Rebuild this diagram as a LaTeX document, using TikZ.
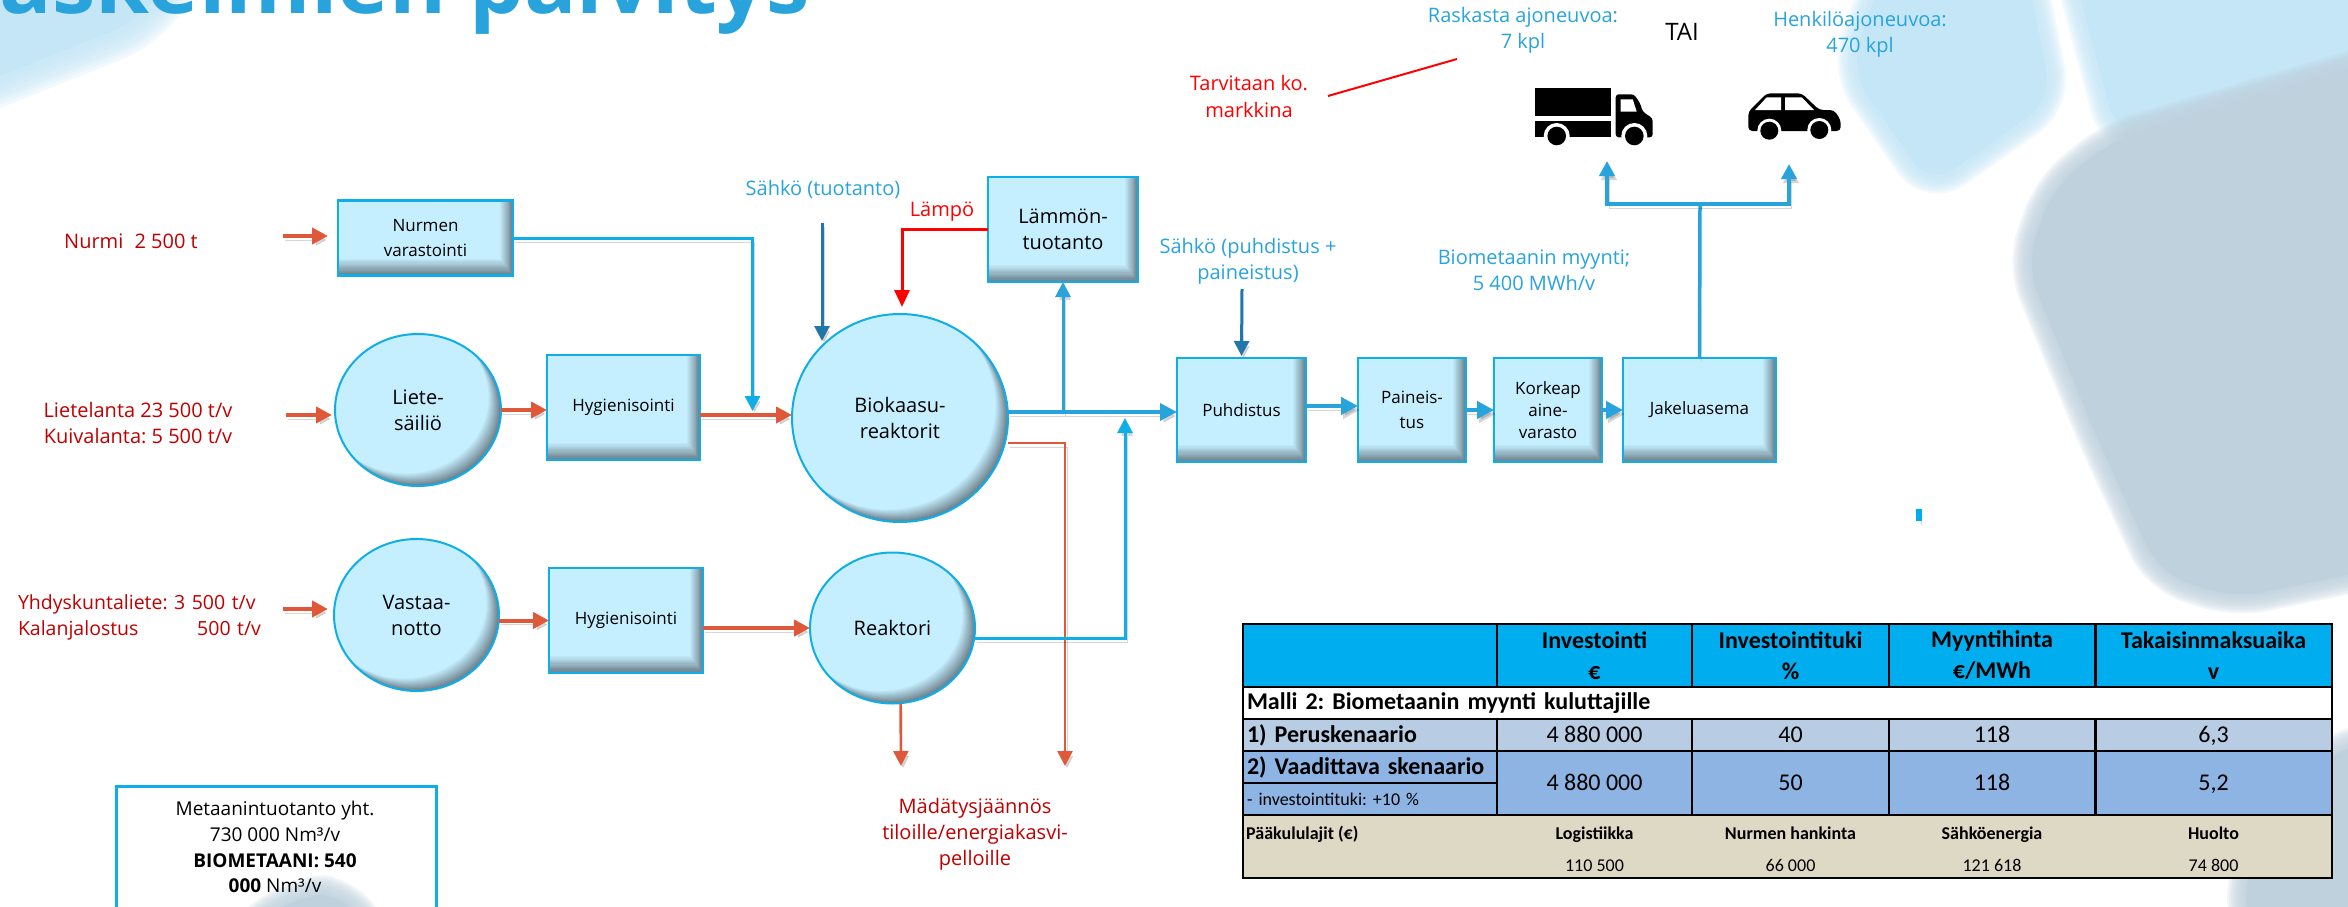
\documentclass[tikz,border=0pt]{standalone}
\usepackage{fontspec}
\setmainfont{Open Sans}
\newfontfamily\tablefont{Carlito}
\usetikzlibrary{arrows.meta,calc,shapes.geometric}
\definecolor{boxfill}{HTML}{C5EFFF}
\definecolor{boxedge}{HTML}{0FAEE6}
\definecolor{boxgray}{HTML}{6B7F8A}
\definecolor{feedred}{HTML}{E0583A}
\definecolor{lineblue}{HTML}{29A3DC}
\definecolor{darkblue}{HTML}{2178A8}
\definecolor{labelred}{HTML}{C00000}
\definecolor{pale}{HTML}{C5E6F6}
\definecolor{slate}{HTML}{BFD1DD}
\definecolor{headblue}{HTML}{00AEEF}
\definecolor{rowone}{HTML}{B8CCE4}
\definecolor{rowtwo}{HTML}{8DB4E2}
\definecolor{rowcost}{HTML}{DDD9C4}
\newcommand{\softblob}[3]{
  \foreach \w in {30,27,...,3}{
    \path[draw=#1,fill=#1,opacity=.2,line width=\w*#3,line join=round,rounded corners=30] #2 -- cycle;
  }
  \fill[#1,rounded corners=30] #2 -- cycle;
}
\begin{document}
\frenchspacing
\begin{tikzpicture}[x=1pt,y=-1pt]
\tikzstyle{block} = [rectangle,draw=boxedge,fill=boxgray,line width=2.5,inner sep=0,outer sep=0,align=center,font=\fontsize{17}{25}\selectfont,
  path picture={
    \foreach \s [evaluate=\s as \m using 100*\s/14] in {1,...,14}{
      \fill[boxfill!\m!boxgray] (path picture bounding box.north west) rectangle ([xshift=-\s*0.9pt,yshift=\s*1.2pt]path picture bounding box.south east);
    }
  }]
\tikzstyle{tank} = [ellipse,draw=boxedge,line width=2,fill=boxgray,inner sep=0,outer sep=0,align=center,font=\fontsize{20}{26}\selectfont,
  path picture={
    \foreach \s [evaluate=\s as \m using 100*\s/14] in {1,...,14}{
      \fill[boxfill!\m!boxgray] let \p1=(path picture bounding box.north east),\p2=(path picture bounding box.center) in
        ([xshift=-\s*0.9pt,yshift=\s*0.9pt]path picture bounding box.center) ellipse ({\x1-\x2} and {\y1-\y2});
    }
  }]
\tikzstyle{redlabel} = [text=labelred,align=center,font=\fontsize{20}{26}\selectfont,inner sep=0]
\tikzstyle{bluelabel} = [text=lineblue,align=center,font=\fontsize{20}{26}\selectfont,inner sep=0]
\tikzstyle{shadowline} = [preaction={draw=black,opacity=.16,transform canvas={xshift=2pt,yshift=-4pt}}]
\tikzstyle{feed} = [-{Triangle[length=16pt,width=16pt]},draw=feedred,line width=4,shadowline]
\tikzstyle{waste} = [-{Triangle[length=15pt,width=15pt]},draw=feedred,line width=2.5,shadowline]
\tikzstyle{gasline} = [-{Triangle[length=15pt,width=15pt]},draw=boxedge,line width=3,shadowline]
\tikzstyle{thickgas} = [-{Triangle[length=17pt,width=17pt]},draw=lineblue,line width=4.5,shadowline]
\tikzstyle{power} = [-{Triangle[length=15pt,width=15pt]},draw=darkblue,line width=3,shadowline]
\tikzstyle{cell} = [draw=black,line width=2,inner sep=0,outer sep=0,align=center,font=\tablefont\fontsize{24}{31}\selectfont]
\tikzstyle{valuecell} = [cell,text height=15,text depth=0]
\tikzstyle{leftcell} = [cell,align=left,inner sep=4]
\tikzstyle{costtext} = [inner sep=0,anchor=base,font=\tablefont\fontsize{18}{22}\selectfont]
\useasboundingbox (0,0) rectangle (2348,907);
\clip (0,0) rectangle (2348,907);
\softblob{pale}{(-60,-60) -- (195,-60) -- (140,20) -- (-60,100)}{2}
\softblob{pale}{(1895,-60) -- (2020,-60) -- (2052,100) -- (1930,186) -- (1850,70)}{1.3}
\softblob{pale}{(2065,-60) -- (2117,135) -- (2420,135) -- (2420,-60)}{1.3}
\softblob{slate}{(2113,140) -- (2420,50) -- (2420,560) -- (2235,598) -- (2160,574) -- (2099,442) -- (2026,265) -- (2052,189)}{1.3}
\softblob{slate}{(2420,720) -- (2320,760) -- (2245,870) -- (2250,960) -- (2420,960)}{1.3}
\softblob{slate}{(235,940) -- (295,897) -- (345,893) -- (372,940)}{1.3}
\node[anchor=base east,text=lineblue,inner sep=0,font=\fontsize{87}{87}\selectfont\bfseries] at (810,14) (title) {Laskelmien päivitys};
\node[block,minimum width=175,minimum height=75] at (425.5,238) (nurmenbox) {Nurmen\\varastointi};
\node[tank,minimum width=166,minimum height=152] at (418,410) (lietetank) {Liete-\\säiliö};
\node[block,minimum width=153,minimum height=105] at (623.5,407.5) (hyg1) {Hygienisointi};
\node[tank,minimum width=216,minimum height=208] at (900,418) (bioreactor) {Biokaasu-\\reaktorit};
\node[block,minimum width=150,minimum height=105,font=\fontsize{20}{26}\selectfont] at (1063,229.5) (heatbox) {Lämmön-\\tuotanto};
\node[tank,minimum width=165,minimum height=152] at (416.5,615) (vastaatank) {Vastaa-\\notto};
\node[block,minimum width=154,minimum height=105] at (626,620.5) (hyg2) {Hygienisointi};
\node[tank,minimum width=165,minimum height=151] at (892.5,628) (reactor) {Reaktori};
\node[block,minimum width=129,minimum height=104] at (1241.5,410) (cleaning) {Puhdistus};
\node[block,minimum width=108,minimum height=104] at (1412,410) (pressure) {Paineis-\\tus};
\node[block,minimum width=108,minimum height=104,font=\fontsize{17}{22}\selectfont] at (1548,410) (highstore) {Korkeap\\aine-\\varasto};
\node[block,minimum width=153,minimum height=104] at (1699.5,410) (station) {Jakeluasema};
\node[redlabel] at (131,241) (nurmilabel) {Nurmi\hspace{6pt} 2 500 t};
\node[redlabel] at (138,423) (lietelabel) {Lietelanta 23 500 t/v\\Kuivalanta: 5 500 t/v};
\node[redlabel,align=left,text width=243,font=\fontsize{19.5}{26}\selectfont] at (139.5,617.5) (yhdyslabel) {Yhdyskuntaliete: 3 500 t/v\\Kalanjalostus\hfill 500 t/v};
\node[redlabel] at (975,834) (digestlabel) {Mädätysjäännös\\tiloille/energiakasvi-\\pelloille};
\node[redlabel,text=red] at (942,212) (heatlabel) {Lämpö};
\node[redlabel,text=red] at (1249,96.5) (marketlabel) {Tarvitaan ko.\\markkina};
\node[bluelabel] at (823,189) (powerone) {Sähkö (tuotanto)};
\node[bluelabel] at (1248,261) (powertwo) {Sähkö (puhdistus +\\paineistus)};
\node[bluelabel] at (1534,270) (salelabel) {Biometaanin myynti;\\5 400 MWh/v};
\node[bluelabel] at (1523,30.5) (trucklabel) {Raskasta ajoneuvoa:\\7 kpl};
\node[bluelabel] at (1860,34) (carlabel) {Henkilöajoneuvoa:\\470 kpl};
\node[inner sep=0,font=\fontsize{24}{26}\selectfont] at (1682,32) (orlabel) {TAI};
\node[draw=boxedge,line width=2.5,minimum width=320,minimum height=170,inner sep=0,anchor=north west] at (115,785) (metabox) {};
\node[inner sep=0,align=center,anchor=north,font=\fontsize{19}{25.7}\selectfont] at (275,801) (metatext) {Metaanintuotanto yht.\\730 000 Nm³/v\\\textbf{BIOMETAANI: 540}\\\textbf{000} Nm³/v};
\coordinate (nurmiin) at (283,236);
\coordinate (lieteiin) at (286,415);
\coordinate (vastaain) at (283,609);
\coordinate (nurmiend) at (752.5,411);
\coordinate (poweronetop) at (822,223);
\coordinate (poweroneend) at (822,341);
\coordinate (heatjoin) at (1063,412);
\coordinate (reactorend) at (1125,418);
\coordinate (digestone) at (901,766);
\coordinate (digesttwo) at (1065,766);
\coordinate (powertwotop) at (1242,289);
\coordinate (fork) at (1700,204);
\coordinate (truckend) at (1607,161);
\coordinate (carend) at (1789,164);
\coordinate (marketa) at (1328,96);
\coordinate (marketb) at (1457,59);
\coordinate (stubtop) at (1919,509);
\coordinate (stubend) at (1919,521);
\draw[feed] (nurmiin) -- ([shift={(-10pt,2pt)}]nurmenbox.west);
\draw[feed] (lieteiin) -- ([shift={(-3pt,-5pt)}]lietetank.west);
\draw[feed] (vastaain) -- ([shift={(-6pt,6pt)}]vastaatank.west);
\draw[feed] (lietetank.east) -- (lietetank.east -| hyg1.west);
\draw[feed] (hyg2.west -| vastaatank.east) -- (hyg2.west);
\draw[feed] ([yshift=3pt]bioreactor.west -| hyg1.east) -- ([yshift=3pt]bioreactor.west);
\draw[feed] (reactor.west -| hyg2.east) -- (reactor.west);
\draw[waste] ([yshift=-25pt]bioreactor.east) -| (digesttwo);
\draw[waste] ([xshift=8pt]reactor.south) -- (digestone);
\draw[gasline] (nurmenbox.east) -| (nurmiend);
\draw[gasline] ([yshift=-10pt]reactor.east) -| (reactorend);
\draw[gasline,draw=lineblue] (heatjoin) -- (heatbox.south);
\draw[thickgas,line width=3.5] ([yshift=-2pt]cleaning.west -| bioreactor.east) -- ([yshift=-2pt]cleaning.west);
\draw[-{Triangle[length=17pt,width=15pt]},draw=red,line width=3] (heatbox.west) -| ([shift={(2pt,7pt)}]bioreactor.north);
\draw[power] (poweronetop) -- (poweroneend);
\draw[power] (powertwotop) -- ([yshift=2pt]cleaning.north);
\draw[thickgas] ([yshift=4pt]cleaning.east) -- ([yshift=4pt]pressure.west);
\draw[thickgas] (pressure.east) -- (highstore.west);
\draw[thickgas] (highstore.east) -- (station.west);
\draw[draw=lineblue,line width=3.5,shadowline] (station.north) -- (fork);
\draw[gasline,draw=lineblue,line width=4] (fork) -| (truckend);
\draw[gasline,draw=lineblue,line width=4] (fork) -| (carend);
\draw[draw=red,line width=2] (marketa) -- (marketb);
\draw[draw=headblue,line width=5.5,shadowline] (stubtop) -- (stubend);
\fill (1535,87.7) rectangle (1610.5,116);
\fill (1535,121) rectangle (1610.5,137.3);
\fill[rounded corners=3] (1615.7,94.3) -- (1634,94.3) -- (1640,103) -- (1642.7,111.7) -- (1652.7,118.3) -- (1652.7,137.3) -- (1615.7,137.3) -- cycle;
\fill[white] (1620.7,99.3) -- (1632.7,99.3) -- (1636.7,111.7) -- (1620.7,111.7) -- cycle;
\foreach \Point in {(1556.7,136), (1634.3,136)}{
  \fill[white] \Point circle (13);
  \fill \Point circle (9.3);
}
\fill[rounded corners=4] (1748.3,131) -- (1748.3,111.7) -- (1766.7,93.3) -- (1801.7,93.3) -- (1819.3,110) -- (1834,110) -- (1840.7,120) -- (1840.7,131) -- cycle;
\fill[white] (1755,110) -- (1766.7,97.3) -- (1781,97.3) -- (1781,110) -- cycle;
\fill[white] (1785,97.3) -- (1801.7,97.3) -- (1814,110) -- (1785,110) -- cycle;
\foreach \Point in {(1769.3,130.7), (1819.3,130)}{
  \fill[white] \Point circle (12);
  \fill \Point circle (9);
}
\node[cell,fill=headblue,minimum width=254,minimum height=63] at (1370,655.5) (headzero) {};
\node[cell,fill=headblue,minimum width=195,minimum height=63,font=\tablefont\bfseries\fontsize{24}{31}\selectfont] at (1594.5,655.5) (headone) {Investointi\\€};
\node[cell,fill=headblue,minimum width=197,minimum height=63,font=\tablefont\bfseries\fontsize{24}{31}\selectfont] at (1790.5,655.5) (headtwo) {Investointituki\\\%};
\node[cell,fill=headblue,minimum width=206.5,minimum height=63,font=\tablefont\bfseries\fontsize{24}{31}\selectfont] at (1992,655.5) (headthree) {Myyntihinta\\€/MWh};
\node[cell,fill=headblue,minimum width=236,minimum height=63,font=\tablefont\bfseries\fontsize{24}{31}\selectfont] at (2213.5,655.5) (headfour) {Takaisinmaksuaika\\v};
\node[leftcell,fill=white,text width=1080.5,minimum height=32,font=\tablefont\bfseries\fontsize{24}{31}\selectfont] at (1787.25,703) (modelrow) {Malli 2: Biometaanin myynti kuluttajille};
\node[leftcell,fill=rowone,text width=246,minimum height=32,font=\tablefont\bfseries\fontsize{24}{31}\selectfont] at (1370,735) (baseone) {1) Peruskenaario};
\node[valuecell,fill=rowone,minimum width=195,minimum height=32] at (1594.5,735) (basetwo) {4 880 000};
\node[valuecell,fill=rowone,minimum width=197,minimum height=32] at (1790.5,735) (basethree) {40};
\node[valuecell,fill=rowone,minimum width=206.5,minimum height=32] at (1992,735) (basefour) {118};
\node[valuecell,fill=rowone,minimum width=236,minimum height=32] at (2213.5,735) (basefive) {6,3};
\node[leftcell,fill=rowtwo,text width=246,minimum height=32,font=\tablefont\bfseries\fontsize{24}{31}\selectfont] at (1370,767) (needone) {2) Vaadittava skenaario};
\node[leftcell,fill=rowtwo,text width=246,minimum height=32,font=\tablefont\fontsize{18}{22}\selectfont] at (1370,799) (needsub) {- investointituki: +10 \%};
\node[valuecell,fill=rowtwo,minimum width=195,minimum height=64] at (1594.5,783) (needtwo) {4 880 000};
\node[valuecell,fill=rowtwo,minimum width=197,minimum height=64] at (1790.5,783) (needthree) {50};
\node[valuecell,fill=rowtwo,minimum width=206.5,minimum height=64] at (1992,783) (needfour) {118};
\node[valuecell,fill=rowtwo,minimum width=236,minimum height=64] at (2213.5,783) (needfive) {5,2};
\node[cell,fill=rowcost,minimum width=1088.5,minimum height=63] at (1787.25,846.5) (costrow) {};
\node[costtext,anchor=base west,font=\tablefont\bfseries\fontsize{18}{22}\selectfont] at (1246,839) (costtitle) {Pääkululajit (€)};
\node[costtext,font=\tablefont\bfseries\fontsize{18}{22}\selectfont] at (1594.5,839) (costone) {Logistiikka};
\node[costtext,font=\tablefont\bfseries\fontsize{18}{22}\selectfont] at (1790.5,839) (costtwo) {Nurmen hankinta};
\node[costtext,font=\tablefont\bfseries\fontsize{18}{22}\selectfont] at (1992,839) (costthree) {Sähköenergia};
\node[costtext,font=\tablefont\bfseries\fontsize{18}{22}\selectfont] at (2213.5,839) (costfour) {Huolto};
\node[costtext] at (1594.5,871) (sumone) {110 500};
\node[costtext] at (1790.5,871) (sumtwo) {66 000};
\node[costtext] at (1992,871) (sumthree) {121 618};
\node[costtext] at (2213.5,871) (sumfour) {74 800};
\end{tikzpicture}
\end{document}
